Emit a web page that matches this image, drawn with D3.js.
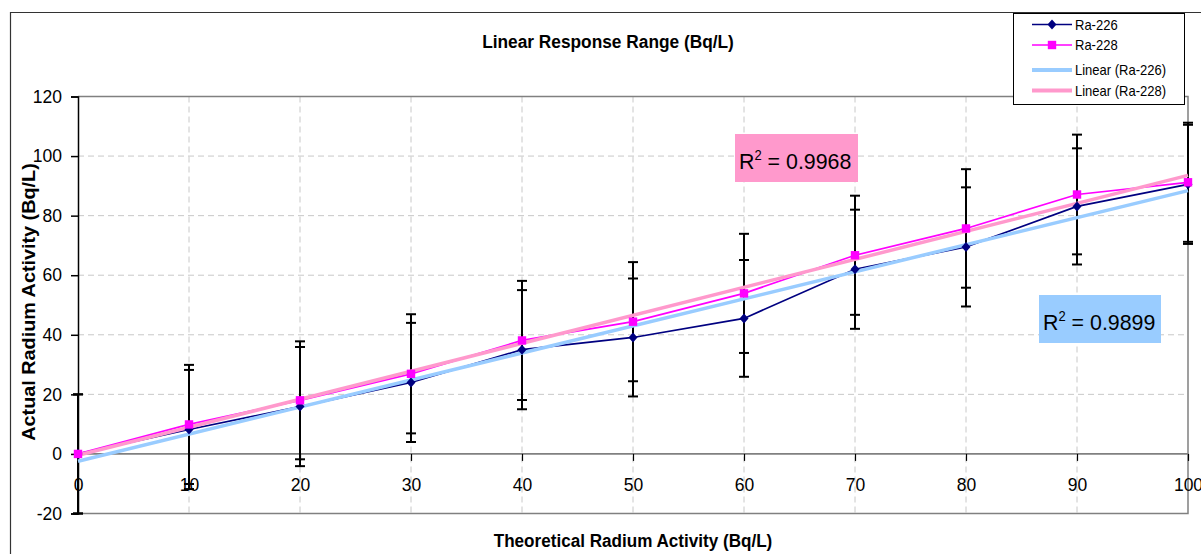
<!DOCTYPE html>
<html>
<head>
<meta charset="utf-8">
<script src="https://cdn.jsdelivr.net/npm/d3@7"></script>
<style>
  html, body { margin: 0; padding: 0; background: #fff; }
  svg { display: block; font-family: "Liberation Sans", Arial, sans-serif; }
</style>
</head>
<body>
<svg id="chart" width="1201" height="554"></svg>
<script>
// ---- data ----
const theoretical = [0, 10, 20, 30, 40, 50, 60, 70, 80, 90, 100];
const ra226 = [0, 8.2, 15.9, 24.0, 35.0, 39.1, 45.5, 62.0, 69.5, 83.1, 90.5];
const ra228 = [0, 9.9, 18.0, 26.9, 38.1, 44.4, 53.9, 66.7, 75.7, 87.1, 91.2];
const err226 = [20, 20, 20, 20, 20, 19.8, 19.6, 20, 20, 19.5, 20];
const err228 = [20, 20, 19.8, 20, 20, 20, 20, 20, 19.9, 20.1, 20];
const xTickValues = [0, 10, 20, 30, 40, 50, 60, 70, 80, 90, 100];
const yTickValues = [-20, 0, 20, 40, 60, 80, 100, 120];
const seriesNames = ["Ra-226", "Ra-228"];
const trendNames = ["Linear (Ra-226)", "Linear (Ra-228)"];
const r2Labels = ["0.9899", "0.9968"];
const chartTitle = "Linear Response Range (Bq/L)";
const xTitle = "Theoretical Radium Activity (Bq/L)";
const yTitle = "Actual Radium Activity (Bq/L)";

// ---- setup ----
const svg = d3.select("#chart");
const SX = 0.93; // horizontal text compression seen in reference
const x = d3.scaleLinear().domain([0, 100]).range([78, 1188]);
const y = d3.scaleLinear().domain([-20, 120]).range([513.5, 96.5]);
const fmt = d => String(d); // plain hyphen minus, as in the reference

const colors = { ra226: "#000080", ra228: "#FF00FF", t226: "#99CCFF", t228: "#FF99CC" };

// outer chart border
svg.append("path").attr("d", "M10.5,560 V12.5 H1210")
  .attr("fill", "none").attr("stroke", "#333").attr("stroke-width", 1.2);

// gridlines
const grid = svg.append("g");
grid.selectAll("line.h").data(yTickValues.filter(v => v > 0 && v < 120)).join("line")
  .attr("x1", x(0)).attr("x2", x(100)).attr("y1", d => y(d)).attr("y2", d => y(d))
  .attr("stroke", "#C8C8C8").attr("stroke-dasharray", "6,4");
grid.selectAll("line.v").data(xTickValues.filter(v => v > 0 && v < 100)).join("line")
  .attr("x1", d => x(d)).attr("x2", d => x(d)).attr("y1", y(120)).attr("y2", y(-20))
  .attr("stroke", "#C8C8C8").attr("stroke-dasharray", "6,4");

// plot borders
svg.append("path").attr("d", `M${x(0)},${y(120)} H${x(100)} V${y(-20)} H${x(0)}`)
  .attr("fill", "none").attr("stroke", "#808080").attr("stroke-width", 1.5);
// zero line
svg.append("line").attr("x1", x(0)).attr("x2", x(100)).attr("y1", y(0)).attr("y2", y(0))
  .attr("stroke", "#808080").attr("stroke-width", 1.8);

// y axis
const yAxis = d3.axisLeft(y).tickValues(yTickValues).tickFormat(fmt).tickSize(7).tickPadding(9);
const yg = svg.append("g").attr("transform", `translate(${x(0)},0)`).call(yAxis);
yg.select(".domain").attr("stroke", "#000").attr("stroke-width", 1.5);
yg.selectAll(".tick line").attr("stroke", "#000").attr("stroke-width", 1.5);
yg.selectAll(".tick text").attr("font-size", 17.5).attr("fill", "#000")
  .attr("font-family", "Liberation Sans, Arial, sans-serif").attr("dy", "0.33em");

// x axis (at zero line)
const xAxis = d3.axisBottom(x).tickValues(xTickValues).tickFormat(fmt).tickSize(7).tickPadding(20);
const xg = svg.append("g").attr("transform", `translate(0,${y(0)})`).call(xAxis);
xg.select(".domain").remove();
xg.selectAll(".tick line").attr("stroke", "#000").attr("stroke-width", 1.2);
xg.selectAll(".tick text").attr("font-size", 17.5).attr("fill", "#000")
  .attr("font-family", "Liberation Sans, Arial, sans-serif").attr("dy", "0.55em");

// error bars
function errorBars(vals, errs) {
  const g = svg.append("g").attr("stroke", "#000").attr("stroke-width", 2);
  theoretical.forEach((t, i) => {
    const cx = x(t), top = y(vals[i] + errs[i]), bot = y(vals[i] - errs[i]);
    g.append("line").attr("x1", cx).attr("x2", cx).attr("y1", top).attr("y2", bot);
    g.append("line").attr("x1", cx - 5).attr("x2", cx + 5).attr("y1", top).attr("y2", top);
    g.append("line").attr("x1", cx - 5).attr("x2", cx + 5).attr("y1", bot).attr("y2", bot);
  });
}
errorBars(ra226, err226);
errorBars(ra228, err228);

// series lines
const line = d3.line().x((d, i) => x(theoretical[i])).y(d => y(d));
svg.append("path").datum(ra226).attr("d", line).attr("fill", "none")
  .attr("stroke", colors.ra226).attr("stroke-width", 1.7);
svg.append("path").datum(ra228).attr("d", line).attr("fill", "none")
  .attr("stroke", colors.ra228).attr("stroke-width", 1.7);

// linear trend lines (least squares)
function fit(xs, ys) {
  const mx = d3.mean(xs), my = d3.mean(ys);
  let sxy = 0, sxx = 0;
  xs.forEach((v, i) => { sxy += (v - mx) * (ys[i] - my); sxx += (v - mx) * (v - mx); });
  const m = sxy / sxx;
  return { m, b: my - m * mx };
}
[[ra226, colors.t226], [ra228, colors.t228]].forEach(([vals, c]) => {
  const f = fit(theoretical, vals);
  svg.append("line")
    .attr("x1", x(0)).attr("y1", y(f.b))
    .attr("x2", x(100)).attr("y2", y(f.m * 100 + f.b))
    .attr("stroke", c).attr("stroke-width", 3.5);
});

// markers
svg.append("g").selectAll("path").data(ra226).join("path")
  .attr("transform", (d, i) => `translate(${x(theoretical[i])},${y(d)})`)
  .attr("d", "M0,-5L4.5,0L0,5L-4.5,0Z").attr("fill", colors.ra226);
svg.append("g").selectAll("rect").data(ra228).join("rect")
  .attr("x", (d, i) => x(theoretical[i]) - 4.2).attr("y", d => y(d) - 4.2)
  .attr("width", 8.4).attr("height", 8.4).attr("fill", colors.ra228);

// R² labels
function r2Box(x0, y0, w, h, fill, label) {
  svg.append("rect").attr("x", x0).attr("y", y0).attr("width", w).attr("height", h).attr("fill", fill);
  const t = svg.append("text").attr("transform", `translate(${x0 + 4},${y0 + 35}) scale(${SX},1)`)
    .attr("font-size", 23).attr("fill", "#000");
  t.append("tspan").text("R");
  t.append("tspan").attr("font-size", 14).attr("dy", -9).text("2");
  t.append("tspan").attr("dy", 9).text(" = " + label);
}
r2Box(735, 134, 123, 48, colors.t228, r2Labels[1]);
r2Box(1039, 295, 122, 48, colors.t226, r2Labels[0]);

// titles
svg.append("text").attr("transform", `translate(608,48) scale(${SX},1)`)
  .attr("text-anchor", "middle").attr("font-size", 18.6).attr("font-weight", "bold").text(chartTitle);
svg.append("text").attr("transform", `translate(633,546.5) scale(${SX},1)`)
  .attr("text-anchor", "middle").attr("font-size", 18.4).attr("font-weight", "bold").text(xTitle);
svg.append("text").attr("transform", `translate(35,302) scale(${SX},1) rotate(-90)`)
  .attr("text-anchor", "middle").attr("font-size", 19.8).attr("font-weight", "bold").text(yTitle);

// legend
const lg = svg.append("g");
lg.append("rect").attr("x", 1013.5).attr("y", 13.5).attr("width", 171).attr("height", 91)
  .attr("fill", "#fff").attr("stroke", "#000").attr("stroke-width", 1);
const rows = [
  { name: seriesNames[0], y: 24.5, color: colors.ra226, w: 1.7, marker: "diamond" },
  { name: seriesNames[1], y: 45, color: colors.ra228, w: 1.7, marker: "square" },
  { name: trendNames[0], y: 70, color: colors.t226, w: 4, marker: null },
  { name: trendNames[1], y: 90.5, color: colors.t228, w: 4, marker: null }
];
rows.forEach(r => {
  lg.append("line").attr("x1", 1032).attr("x2", 1072).attr("y1", r.y).attr("y2", r.y)
    .attr("stroke", r.color).attr("stroke-width", r.w);
  if (r.marker === "diamond") {
    lg.append("path").attr("transform", `translate(1052,${r.y})`)
      .attr("d", "M0,-5L4.5,0L0,5L-4.5,0Z").attr("fill", r.color);
  } else if (r.marker === "square") {
    lg.append("rect").attr("x", 1052 - 4.2).attr("y", r.y - 4.2).attr("width", 8.4).attr("height", 8.4)
      .attr("fill", r.color);
  }
  lg.append("text").attr("transform", `translate(1075,${r.y + 5}) scale(${SX},1)`)
    .attr("font-size", 14).attr("fill", "#000").text(r.name);
});
</script>
</body>
</html>
